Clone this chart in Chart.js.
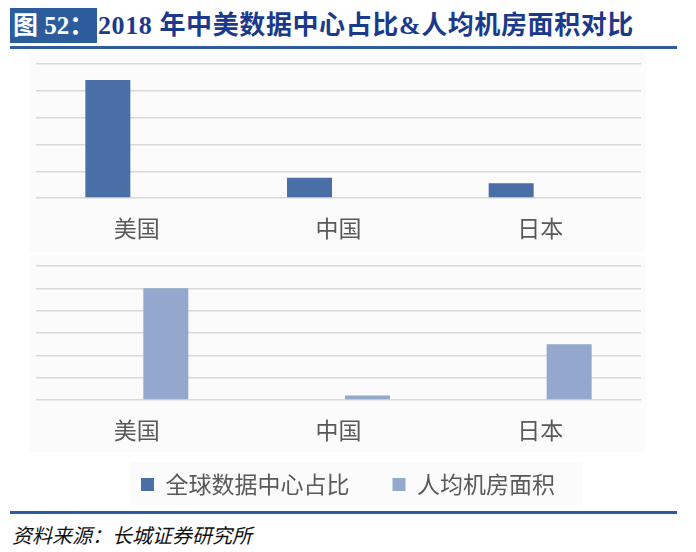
<!DOCTYPE html>
<html>
<head>
<meta charset="utf-8">
<script src="https://cdn.jsdelivr.net/npm/chart.js@4"></script>
<style>
  html, body { margin:0; padding:0; background:#fff; }
  body { width:696px; height:552px; position:relative; overflow:hidden; font-family:"Noto Sans CJK SC", sans-serif; }
  .abs { position:absolute; }
  #titleBox { left:10px; top:8px; width:87px; height:35px; background:#2c5c9c; color:#fff;
    font-family:"Liberation Serif","Noto Sans CJK SC",serif; font-weight:bold; font-size:25px; line-height:35px; padding-left:3px; box-sizing:border-box; white-space:nowrap; }
  #titleText { left:98px; top:8px; height:35px; line-height:35px; color:#1b3a8c; white-space:nowrap;
    font-family:"Liberation Serif","Noto Sans CJK SC",serif; font-weight:bold; font-size:26px; letter-spacing:0.6px; }
  .rule { left:10px; width:667px; height:3px; background:#2e5d9f; }
  #source { left:12px; top:521px; font-size:20px; line-height:28px; font-style:italic; color:#111; white-space:nowrap; }
  .bg { background:#fbfbfb; }
</style>
</head>
<body>
<div class="abs bg" style="left:30px;top:52px;width:616px;height:200px;"></div>
<div class="abs bg" style="left:30px;top:256px;width:616px;height:196px;"></div>
<div class="abs bg" style="left:130px;top:462px;width:453px;height:44px;"></div>
<div id="titleBox" class="abs">图 52：</div>
<div id="titleText" class="abs">2018 年中美数据中心占比&amp;人均机房面积对比</div>
<div class="abs rule" style="top:46px;"></div>
<div class="abs" style="left:0;top:50px;width:696px;height:200px;"><canvas id="c1"></canvas></div>
<div class="abs" style="left:0;top:255px;width:696px;height:251px;"><canvas id="c2"></canvas></div>
<div class="abs rule" style="top:511px;"></div>
<div id="source" class="abs">资料来源：长城证券研究所</div>
<script>
// ---- data ----
const categories = ['美国', '中国', '日本'];
const seriesNames = ['全球数据中心占比', '人均机房面积'];
const shareValues = [44, 7.6, 5.5];     // 全球数据中心占比 (top panel)
const areaValues  = [5.0, 0.2, 2.5];    // 人均机房面积 (bottom panel)
const emptyValues = [null, null, null];
const topScale = { min: 0, max: 50, step: 10 };
const bottomScale = { min: 0, max: 6, step: 1 };

// ---- styles ----
const colShare = '#4a6ea6';
const colArea = '#93a8cc';
const gridCol = '#d9d9d9';
const labelCol = '#595959';
const cjk = '"Noto Sans CJK SC", sans-serif';

function makeOptions(scaleDef, padTop, xHeight, showLegend) {
  return {
    responsive: true,
    maintainAspectRatio: false,
    animation: false,
    layout: { padding: { top: padTop, left: 0, right: 0, bottom: 0 } },
    plugins: {
      tooltip: { enabled: false },
      legend: {
        display: showLegend,
        position: 'bottom',
        labels: {
          boxWidth: 13, boxHeight: 13, padding: 20,
          color: labelCol,
          font: { family: cjk, size: 23 },
          generateLabels: chart => {
            const items = Chart.defaults.plugins.legend.labels.generateLabels(chart);
            items.forEach((it, i) => { if (i < items.length - 1) it.text = it.text + '\u3000'; });
            return items;
          }
        }
      }
    },
    scales: {
      x: {
        grid: { display: false, drawTicks: false },
        border: { display: false },
        ticks: { color: labelCol, font: { family: cjk, size: 23 }, padding: 16 },
        afterFit: s => { s.height = xHeight; }
      },
      y: {
        position: 'left',
        min: scaleDef.min, max: scaleDef.max,
        ticks: { display: false, stepSize: scaleDef.step },
        grid: { color: gridCol, lineWidth: 1.4, drawTicks: false },
        border: { display: false },
        afterFit: s => { s.width = 36; }
      },
      y2: {
        position: 'right',
        display: true,
        ticks: { display: false },
        grid: { display: false, drawTicks: false },
        border: { display: false },
        afterFit: s => { s.width = 55; }
      }
    }
  };
}

const barOpts = { categoryPercentage: 0.575, barPercentage: 0.776, borderWidth: 0 };

new Chart(document.getElementById('c1'), {
  type: 'bar',
  data: {
    labels: categories,
    datasets: [
      Object.assign({ label: seriesNames[0], data: shareValues, backgroundColor: colShare }, barOpts),
      Object.assign({ label: seriesNames[1], data: emptyValues, backgroundColor: colArea }, barOpts)
    ]
  },
  options: makeOptions(topScale, 14, 52, false)
});

new Chart(document.getElementById('c2'), {
  type: 'bar',
  data: {
    labels: categories,
    datasets: [
      Object.assign({ label: seriesNames[0], data: emptyValues, backgroundColor: colShare }, barOpts),
      Object.assign({ label: seriesNames[1], data: areaValues, backgroundColor: colArea }, barOpts)
    ]
  },
  options: makeOptions(bottomScale, 11, 53, true)
});
</script>
</body>
</html>
